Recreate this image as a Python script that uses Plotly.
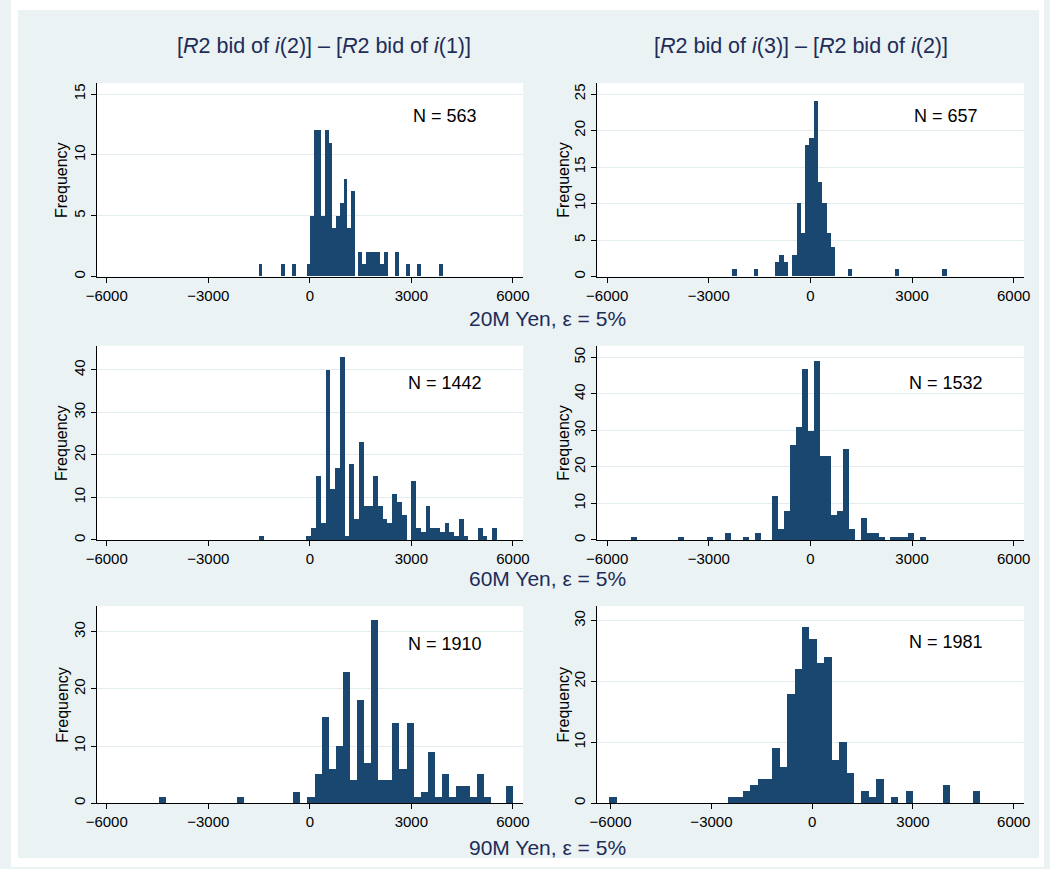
import numpy as np
import plotly.graph_objects as go

W, H = 1050, 869

# ---------------- data (50-bin histograms: min, max, counts) ----------------
tl_min, tl_max = -1520, 3921
tl_counts = [1, 0, 0, 0, 0, 0, 1, 0, 0, 1,
             0, 0, 0, 1, 5, 12, 12, 5, 12, 11,
             4, 5, 6, 8, 4, 7, 0, 2, 1, 2,
             2, 2, 2, 1, 2, 0, 0, 2, 0, 0,
             1, 0, 0, 1, 0, 0, 0, 0, 0, 1]

tr_min, tr_max = -2294, 4028
tr_counts = [1, 0, 0, 0, 0, 1, 0, 0, 0, 0,
             2, 3, 2, 0, 3, 10, 6, 18, 19, 24,
             13, 10, 6, 4, 0, 0, 0, 1, 0, 0,
             0, 0, 0, 0, 0, 0, 0, 0, 1, 0,
             0, 0, 0, 0, 0, 0, 0, 0, 0, 1]

ml_min, ml_max = -1519, 5518
ml_counts = [1, 0, 0, 0, 0, 0, 0, 0, 0, 0,
             1, 3, 15, 4, 40, 12, 17, 43, 1, 18,
             5, 23, 8, 8, 15, 8, 5, 4, 11, 9,
             6, 0, 14, 3, 2, 8, 3, 3, 2, 4,
             2, 1, 5, 1, 0, 0, 3, 1, 0, 3]

mr_min, mr_max = -5294, 3417
mr_counts = [1, 0, 0, 0, 0, 0, 0, 0, 1, 0,
             0, 0, 0, 1, 0, 0, 2, 0, 0, 1,
             0, 2, 0, 0, 12, 3, 8, 26, 31, 47,
             30, 49, 23, 23, 7, 8, 25, 3, 0, 6,
             2, 2, 1, 0, 1, 1, 1, 2, 0, 1]

bl_min, bl_max = -4471, 5981
bl_counts = [1, 0, 0, 0, 0, 0, 0, 0, 0, 0,
             0, 1, 0, 0, 0, 0, 0, 0, 0, 2,
             0, 1, 5, 15, 6, 10, 23, 4, 18, 7,
             32, 4, 4, 14, 6, 14, 1, 2, 9, 1,
             5, 1, 3, 3, 1, 5, 1, 0, 0, 3]

br_min, br_max = -6029, 5003
br_counts = [1, 0, 0, 0, 0, 0, 0, 0, 0, 0,
             0, 0, 0, 0, 0, 0, 1, 1, 2, 3,
             4, 4, 9, 6, 18, 22, 29, 27, 23, 24,
             7, 10, 5, 0, 2, 1, 4, 0, 1, 0,
             2, 0, 0, 0, 0, 3, 0, 0, 0, 2]

n_labels = ["N = 563", "N = 657", "N = 1442", "N = 1532", "N = 1910", "N = 1981"]
col_titles = ["[<i>R</i>2 bid of <i>i</i>(2)] – [<i>R</i>2 bid of <i>i</i>(1)]",
              "[<i>R</i>2 bid of <i>i</i>(3)] – [<i>R</i>2 bid of <i>i</i>(2)]"]
row_titles = ["20M Yen, ε = 5%", "60M Yen, ε = 5%", "90M Yen, ε = 5%"]
x_ticks = [-6000, -3000, 0, 3000, 6000]
y_ticks = [[0, 5, 10, 15], [0, 5, 10, 15, 20, 25],
           [0, 10, 20, 30, 40], [0, 10, 20, 30, 40, 50],
           [0, 10, 20, 30], [0, 10, 20, 30]]

panels = [(tl_min, tl_max, tl_counts), (tr_min, tr_max, tr_counts),
          (ml_min, ml_max, ml_counts), (mr_min, mr_max, mr_counts),
          (bl_min, bl_max, bl_counts), (br_min, br_max, br_counts)]

# ---------------- layout geometry ----------------
FONT = "Liberation Sans, Arial, sans-serif"
BAR = "#1A476F"
BG = "#EAF2F3"
TITLE_C = "#1E2C58"

def px_x(p):
    return p / W

def px_y(p):
    return 1 - p / H

x_dom = [(87, 520.5), (596, 1029.5)]
y_dom = [(83.3, 277.2), (346.5, 541.2), (607.5, 805)]
y_top = [15.9, 26.5, 45.7, 53.2, 34.5, 32.4]
x_rng = [[-6300, 6300], [-6290, 6300], [-6300, 6300], [-6290, 6300],
         [-6300, 6300], [-6396, 6300]]

fig = go.Figure()
layout = {}
for i, (mn, mx, counts) in enumerate(panels):
    r, c = divmod(i, 2)
    counts = np.array(counts)
    nb = len(counts)
    w = (mx - mn) / nb
    centers = mn + w * (np.arange(nb) + 0.5)
    sfx = "" if i == 0 else str(i + 1)
    fig.add_trace(go.Bar(
        x=centers, y=counts, width=w,
        marker=dict(color=BAR, line=dict(width=0)),
        xaxis="x" + sfx, yaxis="y" + sfx, showlegend=False, hoverinfo="x+y"))
    xd = x_dom[c]
    yd = y_dom[r]
    layout["xaxis" + sfx] = dict(
        domain=[px_x(xd[0]), px_x(xd[1])], anchor="y" + sfx, range=x_rng[i],
        tickvals=x_ticks, ticks="outside", ticklen=5, tickcolor="black",
        showline=True, linecolor="black", linewidth=1, showgrid=False,
        zeroline=False, tickfont=dict(size=15, color="black", family=FONT))
    layout["yaxis" + sfx] = dict(
        domain=[px_y(yd[1]), px_y(yd[0])], anchor="x" + sfx, range=[0, y_top[i]],
        tickvals=y_ticks[i], ticks="outside", ticklen=5, tickcolor="black",
        showline=True, linecolor="black", linewidth=1, showgrid=True,
        gridcolor="#E3ECEF", gridwidth=1, zeroline=False, tickangle=-90,
        tickfont=dict(size=15, color="black", family=FONT))

annotations = []
n_pos = [(441.5, 116), (950, 116), (441.5, 384), (950.5, 384), (441.5, 645), (950.5, 643)]
for (x, y), t in zip(n_pos, n_labels):
    annotations.append(dict(x=px_x(x), y=px_y(y), xref="paper", yref="paper", text=t,
                            showarrow=False, xanchor="center", yanchor="middle",
                            font=dict(size=18, color="black", family=FONT)))
# Frequency labels
for r in range(3):
    yc = (y_dom[r][0] + y_dom[r][1]) / 2
    for xc in (52, 562):
        annotations.append(dict(x=px_x(xc), y=px_y(yc), xref="paper", yref="paper",
                                text="Frequency", textangle=-90, showarrow=False,
                                xanchor="center", yanchor="middle",
                                font=dict(size=16, color="black", family=FONT)))
# column titles
for xc, t in zip((317.7, 802.7), col_titles):
    annotations.append(dict(x=px_x(xc), y=px_y(46), xref="paper", yref="paper", text=t,
                            showarrow=False, xanchor="center", yanchor="middle",
                            font=dict(size=21.5, color=TITLE_C, family=FONT)))
# row titles
for yc, t in zip((319, 580, 849), row_titles):
    annotations.append(dict(x=px_x(545), y=px_y(yc), xref="paper", yref="paper", text=t,
                            showarrow=False, xanchor="center", yanchor="middle",
                            font=dict(size=21, color=TITLE_C, family=FONT)))

# white outer frame around the light graph region
shapes = []
for (x0, y0, x1, y1) in [(0, 0, W, 10), (0, 860, W, H), (0, 0, 7, H), (1045, 0, W, H)]:
    shapes.append(dict(type="rect", xref="paper", yref="paper",
                       x0=px_x(x0), x1=px_x(x1), y0=px_y(y1), y1=px_y(y0),
                       fillcolor="white", line=dict(width=0), layer="above"))

fig.update_layout(
    width=W, height=H, margin=dict(l=0, r=0, t=0, b=0),
    paper_bgcolor=BG, plot_bgcolor="white", bargap=0,
    font=dict(family=FONT, color="black"),
    annotations=annotations, shapes=shapes, **layout)

fig.write_html("out.html",
               config={"displayModeBar": False},
               post_script="document.body.style.margin='0px';"
                           "document.body.style.overflow='hidden';")
